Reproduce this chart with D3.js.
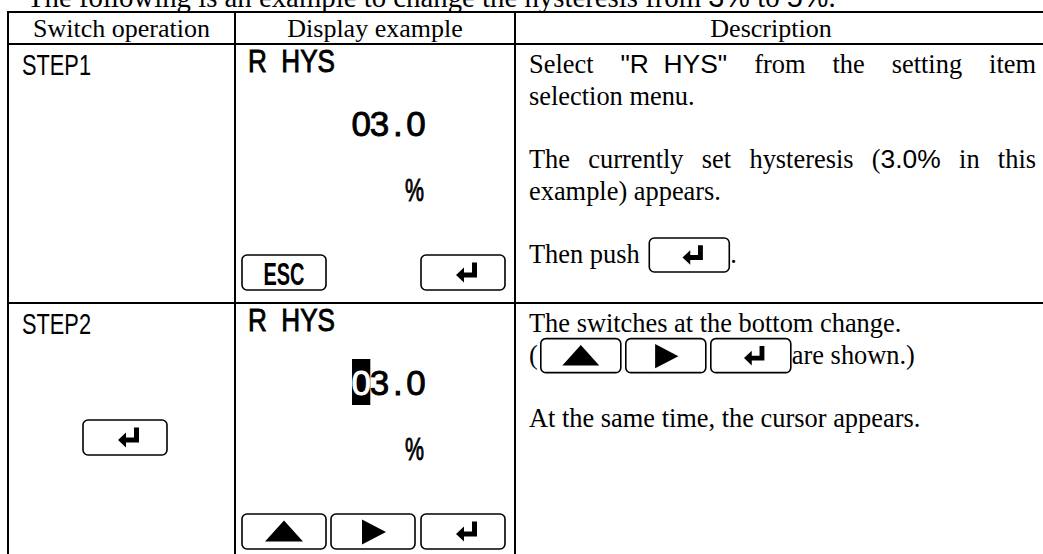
<!DOCTYPE html>
<html><head><meta charset="utf-8">
<script src="https://cdn.jsdelivr.net/npm/d3@7/dist/d3.min.js"></script>
<style>html,body{margin:0;padding:0;background:#fff;overflow:hidden}</style>
</head><body><svg id="c" width="1043" height="554"></svg>
<script>
// ---------- data ----------
const titleParts = [["The following is an example to change the hysteresis from ","serif"],["3%","sans"],[" to ","serif"],["5%","sans"],[".","serif"]];
const headers = ["Switch operation","Display example","Description"];
const steps = ["STEP1","STEP2"];
const switchKeys = [null, "enter"];
const displayTitles = ["R  HYS","R  HYS"];
const displayValues = ["03.0","03.0"];
const cursorIndex = [-1, 0];
const displayUnits = ["%","%"];
const displayKeys = [["esc", null, "enter"], ["up","right","enter"]];
// description lines: [slot, justify, items]; items: [text, font] or ["key", name]
const descRow1 = [
  [0, true,  [["Select","serif"],["\"R  HYS\"","sans"],["from","serif"],["the","serif"],["setting","serif"],["item","serif"]]],
  [1, false, [["selection menu.","serif"]]],
  [3, true,  [["The","serif"],["currently","serif"],["set","serif"],["hysteresis","serif"],["(3.0%","mix"],["in","serif"],["this","serif"]]],
  [4, false, [["example) appears.","serif"]]],
  [6, false, [["Then push ","serif"],["key","enter"],[".","serif"]]]
];
const descRow2 = [
  [0, false, [["The switches at the bottom change.","serif"]]],
  [1, false, [["(","serif"],["key","up"],["key","right"],["key","enter"],["are shown.)","serif"]]],
  [3, false, [["At the same time, the cursor appears.","serif"]]]
];
const descriptions = [descRow1, descRow2];

// ---------- layout ----------
const colEdges = [8, 235, 515, 1045];
const rowEdges = [12, 44, 303, 562];
const SERIF = "'Liberation Serif','Times New Roman',serif";
const SANS = "'Liberation Sans',Arial,sans-serif";
const NARROW = "'Liberation Sans Narrow','Arial Narrow','Liberation Sans',sans-serif";
const FS = 26.4, HFS = 26, TFS = 28.8;

const svg = d3.select("#c");
const colX = d3.scaleOrdinal().domain([0,1,2,3]).range(colEdges);
const rowY = d3.scaleOrdinal().domain([0,1,2,3]).range(rowEdges);
const lineY = d3.scaleLinear().domain([0,1]).range([29, 29+31.67]);

const meas = svg.append("text").attr("x",-999).attr("y",-999).style("white-space","pre");
function textW(t, font, size){
  meas.attr("font-family", font).attr("font-size", size).text(t);
  return meas.node().getComputedTextLength();
}

// title (cut off at the top edge as in the reference)
(function(){
  let x = 27;
  titleParts.forEach(([t,f])=>{
    const font = f==="sans"?SANS:SERIF;
    svg.append("text").attr("x",x).attr("y",7).attr("font-family",font).attr("font-size",TFS)
      .style("white-space","pre").text(t);
    x += textW(t,font,TFS);
  });
})();

// grid lines
const grid = svg.append("g").attr("stroke","#000").attr("stroke-width",2);
d3.range(4).forEach(i=>{
  grid.append("line").attr("x1",colX(0)-1).attr("x2",colX(3)).attr("y1",rowY(i)).attr("y2",rowY(i));
});
d3.range(4).forEach(i=>{
  grid.append("line").attr("x1",colX(i)).attr("x2",colX(i)).attr("y1",rowY(0)-1).attr("y2",rowY(3));
});

// headers
const headerCenters = [ (colEdges[0]+colEdges[1])/2, (colEdges[1]+colEdges[2])/2, 771 ];
headers.forEach((h,i)=>{
  svg.append("text").attr("x",headerCenters[i]).attr("y",rowY(0)+25)
    .attr("text-anchor","middle").attr("font-family",SERIF).attr("font-size",HFS).text(h);
});

// key drawing
function drawKey(g, x, y, w, h, kind){
  g.append("rect").attr("x",x).attr("y",y).attr("width",w).attr("height",h)
    .attr("rx",5).attr("fill","#fff").attr("stroke","#000").attr("stroke-width",1.6);
  const cx = x + w/2, cy = y + h/2;
  const s = h/35;
  if(kind==="enter"){
    const pts = [[21,0],[21,15],[8,15],[8,20],[0,12.5],[8,5],[8,10],[16,10],[16,0]];
    const ox = cx - 10*s + 3*s, oy = cy - 10*s;
    g.append("path").attr("d", d3.line()(pts.map(p=>[ox+p[0]*s, oy+p[1]*s]))+"Z").attr("fill","#000");
  } else if(kind==="up"){
    g.append("path").attr("d", d3.line()([[cx-19*s,cy+10*s],[cx+19*s,cy+10*s],[cx,cy-11*s]])+"Z").attr("fill","#000");
  } else if(kind==="right"){
    g.append("path").attr("d", d3.line()([[cx-11*s,cy-12*s],[cx-11*s,cy+13*s],[cx+13*s,cy+0.5*s]])+"Z").attr("fill","#000");
  } else if(kind==="esc"){
    g.append("text").attr("x",cx).attr("y",cy+12).attr("text-anchor","middle")
      .attr("font-family",NARROW).attr("font-weight","bold").attr("font-size",31)
      .attr("textLength",41).attr("lengthAdjust","spacingAndGlyphs").text("ESC");
  }
}

const KW = 84, KH = 35;
steps.forEach((s,r)=>{
  const top = rowY(r+1);
  const g = svg.append("g");
  // switch column
  g.append("text").attr("x",22).attr("y",top+31).attr("font-family",NARROW).attr("font-size",30)
    .attr("textLength",69).attr("lengthAdjust","spacingAndGlyphs").text(s);
  if(switchKeys[r]) drawKey(g, 83, top+117, KW, KH, switchKeys[r]);
  // display column
  g.append("text").attr("x",248).attr("y",top+28).attr("font-family",NARROW)
    .attr("font-size",31).attr("stroke","#000").attr("stroke-width",0.9).style("white-space","pre")
    .attr("textLength",87).attr("lengthAdjust","spacingAndGlyphs").text(displayTitles[r]);
  const chars = displayValues[r].split("");
  const cellW = 18.3, cellX0 = 352;
  chars.forEach((c,i)=>{
    const cx = cellX0 + cellW*i + cellW/2;
    const on = i===cursorIndex[r];
    if(on){
      g.append("rect").attr("x",cellX0+cellW*i).attr("y",top+56).attr("width",cellW).attr("height",46).attr("fill","#000");
    }
    g.append("text").attr("x",cx).attr("y",top+92).attr("text-anchor","middle")
      .attr("font-family",NARROW).attr("font-size",35)
      .attr("stroke", on?"#fff":"#000").attr("stroke-width",0.9)
      .attr("fill", on?"#fff":"#000").text(c);
  });
  g.append("text").attr("x",405).attr("y",top+157)
    .attr("font-family",NARROW).attr("font-size",32).attr("stroke","#000").attr("stroke-width",0.9)
    .attr("textLength",19).attr("lengthAdjust","spacingAndGlyphs").text(displayUnits[r]);
  const slots = [242, 331, 421];
  displayKeys[r].forEach((k,i)=>{ if(k) drawKey(g, slots[i], top+211, KW, KH, k); });

  // description column
  const x0 = 529, x1 = 1036;
  descriptions[r].forEach(([slot, justify, items])=>{
    const y = top + lineY(slot);
    if(justify){
      const widths = items.map(([t,f])=>itemW(t,f));
      const total = d3.sum(widths);
      const gap = (x1-x0-total)/(items.length-1);
      let x = x0;
      items.forEach((it,i)=>{ drawItem(g, it, x, y); x += widths[i]+gap; });
    } else {
      let x = x0;
      items.forEach((it,i)=>{
        if(it[0]==="key"){
          const lead = (i>0 && items[i-1][0]==="key") ? 4 : 3;
          x += lead;
          drawKey(g, x, y-25, 80, 34, it[1]);
          x += 80 + 1;
        } else {
          drawItem(g, it, x, y);
          x += itemW(it[0], it[1]);
        }
      });
    }
  });
});

function itemW(t,f){
  if(f==="mix") return textW("(",SERIF,FS)+textW("3.0%",SANS,FS);
  return textW(t, f==="sans"?SANS:SERIF, FS);
}
function drawItem(g, it, x, y){
  const [t,f] = it;
  if(f==="mix"){
    g.append("text").attr("x",x).attr("y",y).attr("font-family",SERIF).attr("font-size",FS).text("(");
    g.append("text").attr("x",x+textW("(",SERIF,FS)).attr("y",y).attr("font-family",SANS).attr("font-size",FS).text("3.0%");
    return;
  }
  g.append("text").attr("x",x).attr("y",y).attr("font-family",f==="sans"?SANS:SERIF)
    .attr("font-size",FS).style("white-space","pre").text(t);
}
meas.remove();
</script></body></html>
